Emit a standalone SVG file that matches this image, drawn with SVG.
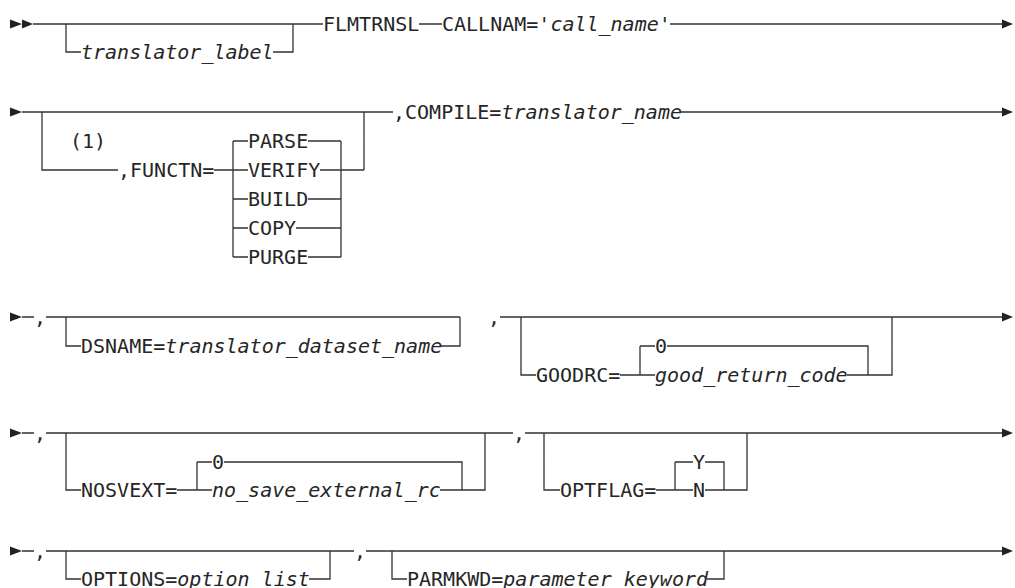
<svg xmlns="http://www.w3.org/2000/svg" width="1015" height="588" viewBox="0 0 1015 588">
<style>
.t{font-family:"DejaVu Sans Mono","Liberation Mono",monospace;font-size:20px;fill:#262626}
.i{font-style:italic}
.ln{fill:none;stroke:#333;stroke-width:1.3}
.ah{fill:#222}
</style>
<rect width="1015" height="588" fill="#fff"/>
<g id="connectors">
<path class="ln" d="M33 24H323M419 24H442M670 24H1002M66 24V52H81M273 52H293V24"/>
<path class="ln" d="M22 112H393M681 112H1002M42 112V170H118M214 170H248M233 141V257M233 141H248M233 199H248M233 228H248M233 257H248M308 141H341M320 170H364M308 199H341M296 228H341M308 257H341M341 141V257M364 112V170"/>
<path class="ln" d="M22 317H34M46 317H460M66 317V346H81M441 346H460V317M500 317H1002M521 317V375H536M620 375H655M640 346V375M640 346H655M667 346H868V375M847 375H892V317"/>
<path class="ln" d="M22 433H34M46 433H513M525 433H1002M66 433V490H81M177 490H212M197 462V490M197 462H212M224 462H462V490M440 490H485V433M544 433V490H560M656 490H693M675 462V490M675 462H693M705 462H724V490M705 490H747V433"/>
<path class="ln" d="M22 551H34M46 551H354M366 551H1002M66 551V579H81M309 579H330V551M392 551V579H407M707 579H724V551"/>
<path class="ah" d="M10 19.5L22 24L10 28.5ZM22 19.5L33 24L22 28.5ZM1002 19.5L1013 24L1002 28.5Z"/>
<path class="ah" d="M10 107.5L22 112L10 116.5ZM1002 107.5L1013 112L1002 116.5Z"/>
<path class="ah" d="M10 312.5L22 317L10 321.5ZM1002 312.5L1013 317L1002 321.5Z"/>
<path class="ah" d="M10 428.5L22 433L10 437.5ZM1002 428.5L1013 433L1002 437.5Z"/>
<path class="ah" d="M10 546.5L22 551L10 555.5ZM1002 546.5L1013 551L1002 555.5Z"/>
</g>
<g id="n-translator-label"><text class="t i" x="81" y="59">translator_label</text></g>
<g id="n-flmtrnsl"><text class="t" x="323" y="31">FLMTRNSL</text></g>
<g id="n-callnam"><text class="t" x="442" y="31">CALLNAM='<tspan class="i">call_name</tspan>'</text></g>
<g id="n-note1"><text class="t" x="70" y="148">(1)</text></g>
<g id="n-functn"><text class="t" x="118" y="177">,FUNCTN=</text></g>
<g id="n-parse"><text class="t" x="248" y="148">PARSE</text></g>
<g id="n-verify"><text class="t" x="248" y="177">VERIFY</text></g>
<g id="n-build"><text class="t" x="248" y="206">BUILD</text></g>
<g id="n-copy"><text class="t" x="248" y="235">COPY</text></g>
<g id="n-purge"><text class="t" x="248" y="264">PURGE</text></g>
<g id="n-compile"><text class="t" x="393" y="119">,COMPILE=<tspan class="i">translator_name</tspan></text></g>
<g id="n-comma3a"><text class="t" x="34" y="324">,</text></g>
<g id="n-dsname"><text class="t" x="81" y="353">DSNAME=<tspan class="i">translator_dataset_name</tspan></text></g>
<g id="n-comma3b"><text class="t" x="488" y="324">,</text></g>
<g id="n-goodrc"><text class="t" x="536" y="382">GOODRC=</text></g>
<g id="n-goodrc-0"><text class="t" x="655" y="353">0</text></g>
<g id="n-goodrc-val"><text class="t i" x="655" y="382">good_return_code</text></g>
<g id="n-comma4a"><text class="t" x="34" y="440">,</text></g>
<g id="n-nosvext"><text class="t" x="81" y="497">NOSVEXT=</text></g>
<g id="n-nosvext-0"><text class="t" x="212" y="469">0</text></g>
<g id="n-nosvext-val"><text class="t i" x="212" y="497">no_save_external_rc</text></g>
<g id="n-comma4b"><text class="t" x="513" y="440">,</text></g>
<g id="n-optflag"><text class="t" x="560" y="497">OPTFLAG=</text></g>
<g id="n-optflag-y"><text class="t" x="693" y="469">Y</text></g>
<g id="n-optflag-n"><text class="t" x="693" y="497">N</text></g>
<g id="n-comma5a"><text class="t" x="34" y="558">,</text></g>
<g id="n-options"><text class="t" x="81" y="586">OPTIONS=<tspan class="i">option_list</tspan></text></g>
<g id="n-comma5b"><text class="t" x="354" y="558">,</text></g>
<g id="n-parmkwd"><text class="t" x="407" y="586">PARMKWD=<tspan class="i">parameter_keyword</tspan></text></g>
</svg>
